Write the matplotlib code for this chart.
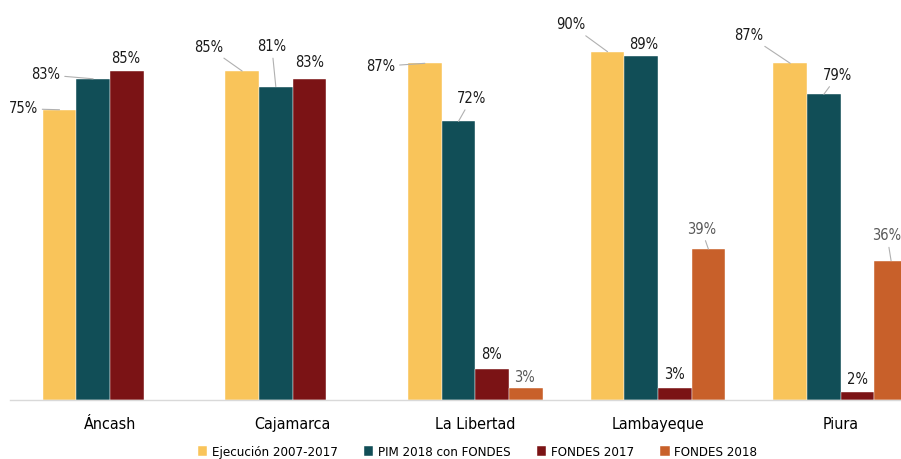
import numpy as np
import matplotlib.pyplot as plt

plt.rcParams['font.family'] = ['DejaVu Sans']
plt.rcParams['font.stretch'] = 'condensed'

# --------------------------- DATA --------------------------- #
regions = ["Áncash", "Cajamarca", "La Libertad", "Lambayeque", "Piura"]
series_names = ["Ejecución 2007-2017", "PIM 2018 con FONDES", "FONDES 2017", "FONDES 2018"]
ejecucion = [75, 85, 87, 90, 87]
pim_2018 = [83, 81, 72, 89, 79]
fondes_2017 = [85, 83, 8, 3, 2]
fondes_2018 = [np.nan, np.nan, 3, 39, 36]

COLORS = ["#F9C45A", "#114E57", "#7B1315", "#C8602A"]

# label offsets in pixels (dx, dy) from bar top, and whether a leader line is drawn
LABEL_POS = {
    (0, 0): (-36, 1, True), (0, 1): (-47, 4, True), (0, 2): (-1, 13, False),
    (1, 0): (-34, 24, True), (1, 1): (-4, 40, True), (1, 2): (0, 16, False),
    (2, 0): (-44, -3, True), (2, 1): (13, 23, True), (2, 2): (-1, 15, False), (2, 3): (-1, 11, False),
    (3, 0): (-37, 27, True), (3, 1): (3, 11, False), (3, 2): (0, 14, False), (3, 3): (-7, 20, True),
    (4, 0): (-42, 28, True), (4, 1): (14, 19, True), (4, 2): (0, 13, False), (4, 3): (-4, 25, True),
}
# ------------------------------------------------------------ #

fig = plt.figure(figsize=(9.01, 4.59), dpi=100)
ax = fig.add_axes([10 / 901, 59 / 459, 922 / 901, 387 / 459])

x = np.arange(len(regions))
w = 0.184
all_series = [ejecucion, pim_2018, fondes_2017, fondes_2018]
for i, (vals, name, col) in enumerate(zip(all_series, series_names, COLORS)):
    xs = x + (i - 1.5) * w
    ax.bar(xs, vals, width=w, color=col, label=name, edgecolor="white", linewidth=0.3)
    for g, v in enumerate(vals):
        if np.isnan(v):
            continue
        dx, dy, leader = LABEL_POS[(g, i)]
        tcol = "#595959" if i == 3 else "#1a1a1a"
        kw = dict(arrowprops=dict(arrowstyle="-", color="#b0b0b0", lw=0.8,
                                  shrinkA=1, shrinkB=0)) if leader else {}
        ax.annotate(f"{v:.0f}%", xy=(xs[g], v), xytext=(dx, dy),
                    textcoords="offset pixels", ha="center", va="center",
                    fontsize=10.5, color=tcol, **kw)

ax.set_xlim(-0.547, 4.5)
ax.set_ylim(0, 100)
ax.set_xticks(x)
ax.set_xticklabels(regions, fontsize=11.5)
ax.tick_params(axis="x", length=0, pad=12)
ax.set_yticks([])
for s in ["top", "right", "left"]:
    ax.spines[s].set_visible(False)
ax.spines["bottom"].set_color("#d9d9d9")
ax.spines["bottom"].set_linewidth(1)

fig.legend(loc="lower center", bbox_to_anchor=(0.53, -0.025), ncol=4, frameon=False,
           fontsize=9.5, handlelength=0.7, handleheight=0.7, handletextpad=0.35,
           columnspacing=2.0)

fig.savefig("out.png", dpi=100)
